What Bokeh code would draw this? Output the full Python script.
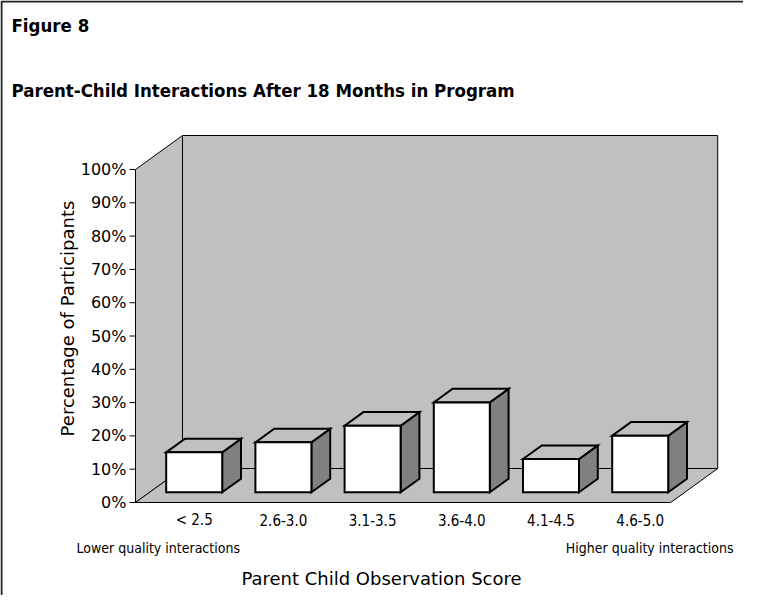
import math
from bokeh.plotting import figure
from bokeh.models import Range1d, ColumnDataSource
from bokeh.core.properties import value
from bokeh.embed import file_html
from bokeh.resources import INLINE

# ---------------- data ----------------
categories = ["< 2.5", "2.6-3.0", "3.1-3.5", "3.6-4.0", "4.1-4.5", "4.6-5.0"]
values = [12, 15, 20, 27, 10, 17]
y_ticks = [0, 10, 20, 30, 40, 50, 60, 70, 80, 90, 100]
y_tick_labels = ["0%", "10%", "20%", "30%", "40%", "50%", "60%", "70%", "80%", "90%", "100%"]
fig_label = "Figure 8"
title_text = "Parent-Child Interactions After 18 Months in Program"
y_title = "Percentage of Participants"
x_title = "Parent Child Observation Score"
low_note = "Lower quality interactions"
high_note = "Higher quality interactions"

# ---------------- layout (pixels) ----------------
W, H = 743, 595
AX_X = 135              # front-left axis
FLOOR_Y = 502           # 0% line
PX_SLOT = 89.2          # px per category slot
PX_PCT = 3.33           # px per percentage point
DX = 47 / PX_SLOT       # depth offset in x units
DY = 34 / PX_PCT        # depth offset in y units
BW = 56 / PX_SLOT       # bar width
DF = 0.30               # bar front depth fraction
DD = 0.40               # bar depth fraction
N = len(categories)

X0 = -0.5 - DF * DX     # floor front-left in data units
X1 = X0 + N

def rx(px):
    return X0 + (px - AX_X) / PX_SLOT

def ry(py):
    return (FLOOR_Y - py) / PX_PCT

p = figure(width=W, height=H, output_backend="svg", toolbar_location=None,
           x_range=Range1d(rx(0), rx(W)), y_range=Range1d(ry(H), ry(0)),
           x_axis_location=None, y_axis_location=None, title=None,
           min_border_left=0, min_border_right=0, min_border_top=0, min_border_bottom=0)
p.grid.visible = False
p.outline_line_color = None
p.background_fill_color = "white"
p.border_fill_color = "white"

WALL = "#c0c0c0"
SIDE = "#808080"

# outer frame (top and left edges)
p.line([rx(1), rx(1), rx(W)], [ry(H), ry(1), ry(1)], line_color="#222222", line_width=2)

walls = ColumnDataSource(dict(
    xs=[[X0, X0, X0 + DX, X0 + DX],
        [X0 + DX, X0 + DX, X1 + DX, X1 + DX],
        [X0, X1, X1 + DX, X0 + DX]],
    ys=[[0, 100, 100 + DY, DY],
        [DY, 100 + DY, 100 + DY, DY],
        [0, 0, DY, DY]],
))
p.patches("xs", "ys", source=walls, fill_color=WALL, line_color="black", line_width=1)

yb = DF * DY
ddx, ddy = DD * DX, DD * DY
side_xs, side_ys, top_xs, top_ys = [], [], [], []
lefts, rights, tops = [], [], []
for i, v in enumerate(values):
    xl, xr = i - BW / 2, i + BW / 2
    yt = yb + v
    lefts.append(xl); rights.append(xr); tops.append(yt)
    side_xs.append([xr, xr + ddx, xr + ddx, xr])
    side_ys.append([yb, yb + ddy, yt + ddy, yt])
    top_xs.append([xl, xr, xr + ddx, xl + ddx])
    top_ys.append([yt, yt, yt + ddy, yt + ddy])

p.patches(side_xs, side_ys, fill_color=SIDE, line_color="black", line_width=2, line_join="miter")
p.patches(top_xs, top_ys, fill_color=WALL, line_color="black", line_width=2, line_join="miter")
p.quad(left=lefts, right=rights, bottom=[yb] * N, top=tops, fill_color="white",
       line_color="black", line_width=2, line_join="miter")

NARROW = "DejaVu Sans Condensed"
SANS = "DejaVu Sans"

def txt(xs, ys, texts, font, size, style="normal", align="left", baseline="middle", angle=0.0):
    p.text(x=xs, y=ys, text=texts, text_font=value(font), text_font_size=value(size),
           text_font_style=style, text_align=align, text_baseline=baseline,
           angle=angle, text_color="black")

# y axis: ticks and labels
nt = len(y_ticks)
p.segment(x0=[X0 - 6 / PX_SLOT] * nt, y0=y_ticks, x1=[X0] * nt, y1=y_ticks,
          line_color="black", line_width=1)
p.line([X0, X0], [0, 100], line_color="black", line_width=1)
txt([X0 - 9 / PX_SLOT] * nt, y_ticks, y_tick_labels, SANS, "16px", align="right")
txt([rx(67)], [ry(318)], [y_title], SANS, "18px", align="center", angle=math.pi / 2)

# x axis: category labels under bar fronts
txt(list(range(N)), [ry(519)] * N, categories, NARROW, "15px", align="center")
txt([rx(76)], [ry(547)], [low_note], NARROW, "14px")
txt([rx(733)], [ry(547)], [high_note], NARROW, "14px", align="right")
txt([rx(381)], [ry(578)], [x_title], SANS, "18px", align="center")

# titles
txt([rx(11)], [ry(25)], [fig_label], NARROW, "18.5px", style="bold")
txt([rx(11)], [ry(90)], [title_text], NARROW, "18.5px", style="bold")

open("out.html", "w").write(file_html(p, INLINE))
